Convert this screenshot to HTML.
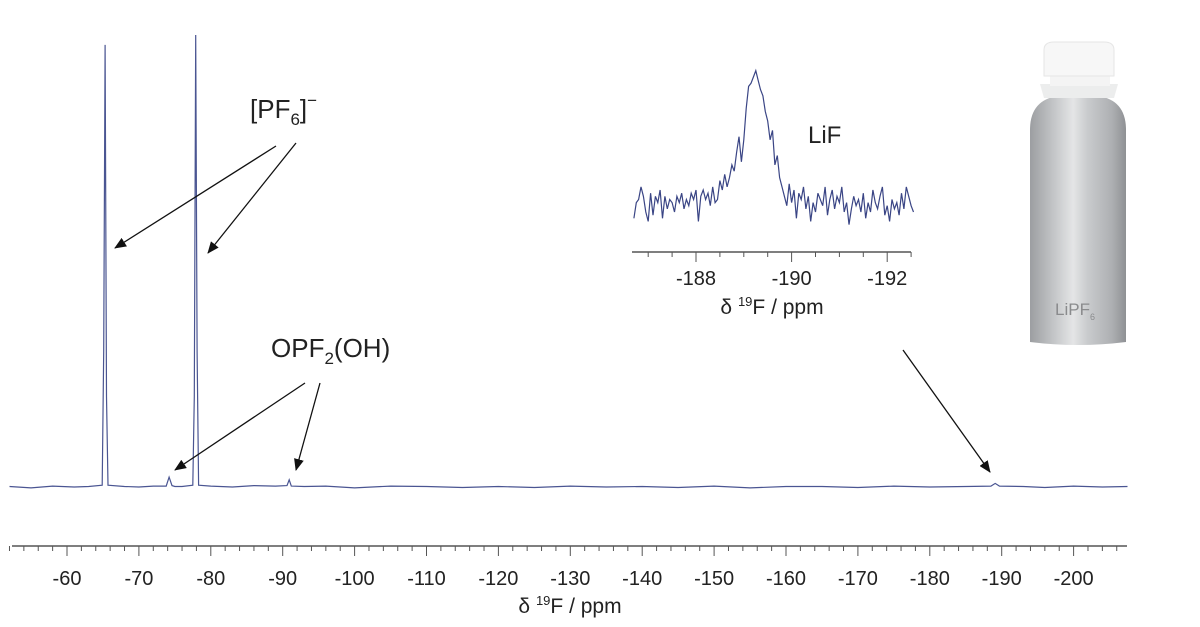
<!DOCTYPE html>
<html><head><meta charset="utf-8"><style>
html,body{margin:0;padding:0;background:#fff}
svg{display:block;font-family:"Liberation Sans",sans-serif}
</style></head><body>
<svg id="c" width="1200" height="627" viewBox="0 0 1200 627">
<defs>
<marker id="ah" markerWidth="12" markerHeight="10" refX="11" refY="5" orient="auto" markerUnits="userSpaceOnUse"><path d="M0,0 L12,5 L0,10 Z" fill="#111"/></marker>
<linearGradient id="alu" x1="0" x2="1" y1="0" y2="0">
<stop offset="0" stop-color="#9c9ea1"/><stop offset="0.25" stop-color="#c4c6c8"/><stop offset="0.45" stop-color="#e4e5e6"/><stop offset="0.6" stop-color="#c9cbcd"/><stop offset="0.85" stop-color="#aeb0b3"/><stop offset="1" stop-color="#8f9194"/></linearGradient>
</defs>
<g id="main"></g>
<g id="inset"></g>
<g font-size="26" fill="#222">
<text x="250" y="118">[PF<tspan font-size="17" dy="7">6</tspan><tspan dy="-7">]</tspan><tspan font-size="17" dy="-12">−</tspan></text>
<line x1="276" y1="146" x2="115" y2="248" stroke="#111" stroke-width="1.3" marker-end="url(#ah)"/>
<line x1="296" y1="143" x2="208" y2="253" stroke="#111" stroke-width="1.3" marker-end="url(#ah)"/>
<text x="271" y="357">OPF<tspan font-size="17" dy="7">2</tspan><tspan dy="-7">(OH)</tspan></text>
<line x1="305" y1="383" x2="175" y2="470" stroke="#111" stroke-width="1.3" marker-end="url(#ah)"/>
<line x1="320" y1="383" x2="296" y2="470" stroke="#111" stroke-width="1.3" marker-end="url(#ah)"/>
<text x="808" y="143" font-size="24">LiF</text>
<line x1="903" y1="350" x2="990" y2="472" stroke="#111" stroke-width="1.3" marker-end="url(#ah)"/>
</g>
<g>
<path d="M1030,130 Q1030,100 1058,96 L1098,96 Q1126,100 1126,130 L1126,342 Q1078,348 1030,342 Z" fill="url(#alu)"/>
<path d="M1040,84 L1118,84 L1114,98 L1044,98 Z" fill="#eceded"/>
<rect x="1050" y="74" width="60" height="12" fill="#f4f4f4"/>
<path d="M1044,50 Q1044,42 1054,42 L1104,42 Q1114,42 1114,50 L1114,76 L1044,76 Z" fill="#f7f7f7" stroke="#e6e6e6"/>
<text x="1055" y="315" font-size="17" fill="#8a8b8d">LiPF<tspan font-size="9" dy="5">6</tspan></text>
</g>
</svg>
<script>
// main spectrum data
const mainPpm = [-52,-55,-58,-61,-63,-64.9,-65.1,-65.3,-65.5,-65.7,-68,-70,-72,-73.8,-74.2,-74.6,-75,-76,-77.5,-77.7,-77.9,-78.1,-78.3,-80,-83,-86,-89,-90.6,-90.9,-91.2,-93,-96,-100,-105,-110,-115,-120,-125,-130,-135,-140,-145,-150,-155,-160,-165,-170,-175,-180,-185,-188.5,-189.1,-189.7,-193,-196,-200,-204,-207.5];
const mainVal = [0.001,-0.002,0.002,0.000,0.001,0.004,0.3,0.978,0.2,0.004,0.001,0.000,0.002,0.002,0.022,0.003,0.001,0.001,0.004,0.2,1.0,0.3,0.004,0.002,0.000,0.003,0.002,0.003,0.016,0.002,0.001,0.002,-0.002,0.002,0.001,-0.001,0.001,-0.001,0.002,0.000,0.001,-0.001,0.002,-0.002,0.001,0.001,-0.001,0.002,0.000,0.001,0.002,0.008,0.002,0.001,-0.001,0.002,0.000,0.001];
const mainTicks = [-60,-70,-80,-90,-100,-110,-120,-130,-140,-150,-160,-170,-180,-190,-200];
// inset data
const insetStart = -186.7, insetStep = 0.05;
const insetVal = [10,20,22,30,24,14,8,26,12,24,20,28,10,24,16,22,20,14,24,20,26,16,22,18,26,22,28,8,24,28,22,26,18,30,20,
22,34,28,38,30,36,44,40,52,62,46,60,80,94,
96,100,104,98,92,88,
78,72,60,66,44,50,36,
30,24,18,32,20,28,10,26,22,30,16,24,8,20,14,26,22,18,30,12,22,28,16,24,20,30,14,20,6,16,24,18,22,14,26,10,20,14,28,20,16,24,30,12,18,8,22,16,20,12,26,16,30,24,18,14];
const insetTicks = [-188,-190,-192];

const NS="http://www.w3.org/2000/svg";
function mk(tag,attrs,parent){const e=document.createElementNS(NS,tag);for(const k in attrs)e.setAttribute(k,attrs[k]);parent.appendChild(e);return e;}
const X = p => 67 + (-60 - p) * 7.19;
const Y = v => 487 - v * 452;
const main = document.getElementById('main');
let d = mainPpm.map((p,i)=>(i?'L':'M')+X(p).toFixed(1)+','+Y(mainVal[i]).toFixed(1)).join(' ');
const ln = mk('path',{d:d,fill:'none',stroke:'#4a5592','stroke-width':1.2},main);


const ax = mk('line',{x1:12,y1:546,x2:1127,y2:546,stroke:'#555','stroke-width':1.5},main);


for(let p=-52;p>=-206;p-=2){
  const maj = p%10===0;
  const t = mk('line',{x1:X(p),x2:X(p),y1:546,y2:maj?556:551,stroke:'#555','stroke-width':1},main);
  
  
}
mainTicks.forEach(p=>{
  const t = mk('text',{x:X(p),y:585,'text-anchor':'middle','font-size':20,fill:'#222'},main);
  t.textContent = p;
  
  
});
const tt = mk('text',{x:570,y:613,'text-anchor':'middle','font-size':21,fill:'#222'},main);
tt.innerHTML = 'δ <tspan font-size="13" dy="-8">19</tspan><tspan dy="8">F / ppm</tspan>';



const IX = p => 696 + (-188 - p) * 47.8;
const IY = v => 234 - v * 1.57;
const inset = document.getElementById('inset');
d = insetVal.map((v,i)=>(i?'L':'M')+IX(insetStart - i*insetStep).toFixed(1)+','+IY(v).toFixed(1)).join(' ');
const il = mk('path',{d:d,fill:'none',stroke:'#3a4585','stroke-width':1.2},inset);


const iax = mk('line',{x1:632,y1:252,x2:911,y2:252,stroke:'#555','stroke-width':1.5},inset);


for(let k=0;k<12;k++){
  const p = -187 - k*0.5;
  const maj = Number.isInteger(p) && p%2===0;
  const t = mk('line',{x1:IX(p),x2:IX(p),y1:252,y2:maj?262:257,stroke:'#555','stroke-width':1},inset);
  
  
}
insetTicks.forEach(p=>{
  const t = mk('text',{x:IX(p),y:285,'text-anchor':'middle','font-size':20,fill:'#222'},inset);
  t.textContent = p;
  
  
});
const it = mk('text',{x:772,y:314,'text-anchor':'middle','font-size':21,fill:'#222'},inset);
it.innerHTML = 'δ <tspan font-size="13" dy="-8">19</tspan><tspan dy="8">F / ppm</tspan>';


</script>
</body></html>
